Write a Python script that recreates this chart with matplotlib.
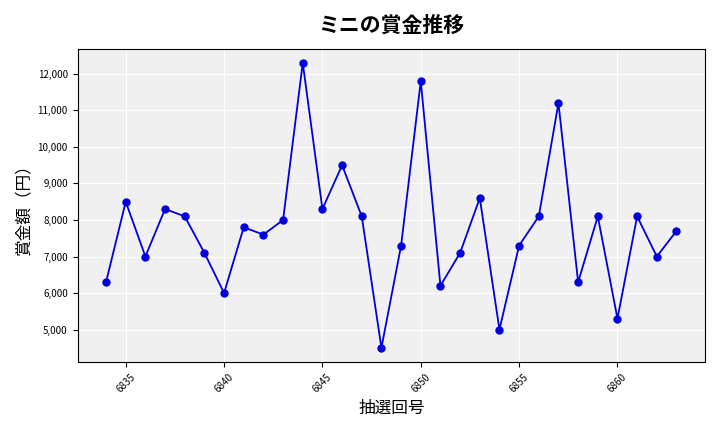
import matplotlib.pyplot as plt
from matplotlib.ticker import FuncFormatter

plt.rcParams['font.family'] = ['Noto Sans CJK JP', 'DejaVu Sans']

draws = list(range(6834, 6864))
prizes = [6300, 8500, 7000, 8300, 8100, 7100, 6000, 7800, 7600, 8000,
          12300, 8300, 9500, 8100, 4500, 7300, 11800, 6200, 7100, 8600,
          5000, 7300, 8100, 11200, 6300, 8100, 5300, 8100, 7000, 7700]

fig, ax = plt.subplots(figsize=(7.2, 4.32), dpi=100)
ax.set_facecolor('#f0f0f0')
ax.plot(draws, prizes, color='#0000dd', marker='o', markersize=5, linewidth=1.3)
ax.grid(True, color='white', linewidth=0.8)
ax.set_axisbelow(True)
ax.set_title('ミニの賞金推移', fontsize=15, fontweight='bold', pad=12)
ax.set_xlabel('抽選回号', fontsize=12)
ax.set_ylabel('賞金額（円）', fontsize=12)
ax.set_xticks(range(6835, 6864, 5))
ax.yaxis.set_major_formatter(FuncFormatter(lambda v, p: f'{int(v):,}'))
ax.tick_params(axis='x', labelrotation=45, labelsize=7)
ax.tick_params(axis='y', labelsize=7)
fig.tight_layout()
fig.savefig('out.png')
